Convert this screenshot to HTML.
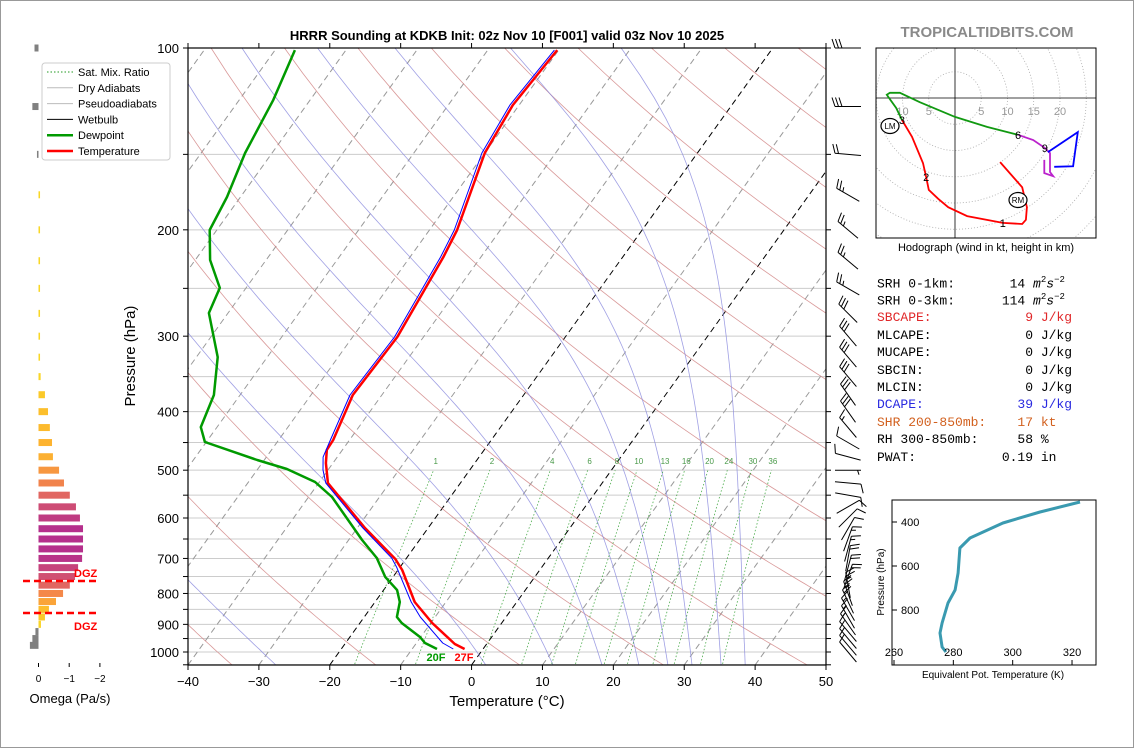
<!DOCTYPE html>
<html><head><meta charset="utf-8">
<style>
html,body{margin:0;padding:0;background:#fff;}
body{width:1134px;height:748px;overflow:hidden;position:relative;font-family:"Liberation Sans",sans-serif;}
svg{position:absolute;left:0;top:0;}
.stat{position:absolute;font-family:"Liberation Mono",monospace;font-size:13px;line-height:15px;white-space:pre;}
</style></head>
<body>
<svg id="chart" width="1134" height="748" viewBox="0 0 1134 748">
<defs>
<clipPath id="plotclip"><rect x="188" y="48" width="638" height="617"/></clipPath>
<clipPath id="hodoclip"><rect x="876" y="48" width="220" height="190"/></clipPath>
<clipPath id="thclip"><rect x="892" y="500" width="204" height="165"/></clipPath>
</defs>
<rect x="0.5" y="0.5" width="1133" height="747" fill="#fff" stroke="#999"/>
</svg>

<div class="stat" style="left:877px;top:273px">SRH 0-1km:       14 <i>m</i><sup style="font-size:9px">2</sup><i>s</i><sup style="font-size:9px">−2</sup></div>
<div class="stat" style="left:877px;top:290px">SRH 0-3km:      114 <i>m</i><sup style="font-size:9px">2</sup><i>s</i><sup style="font-size:9px">−2</sup></div>
<div class="stat" style="left:877px;top:310px;color:#e0282a">SBCAPE:            9 J/kg</div>
<div class="stat" style="left:877px;top:328px">MLCAPE:            0 J/kg</div>
<div class="stat" style="left:877px;top:345px">MUCAPE:            0 J/kg</div>
<div class="stat" style="left:877px;top:363px">SBCIN:             0 J/kg</div>
<div class="stat" style="left:877px;top:380px">MLCIN:             0 J/kg</div>
<div class="stat" style="left:877px;top:397px;color:#2a2ae0">DCAPE:            39 J/kg</div>
<div class="stat" style="left:877px;top:415px;color:#d2601e">SHR 200-850mb:    17 kt</div>
<div class="stat" style="left:877px;top:432px">RH 300-850mb:     58 %</div>
<div class="stat" style="left:877px;top:450px">PWAT:           0.19 in</div>

<script>
// ---------- DATA ----------
const tempP = [988.6,969.8,895.4,826.5,731.6,701.5,623.4,525,486.6,463,445.7,375.4,300.9,221.8,200.1,149.2,124.3,100.8];
const tempT = [-2.6,-4.5,-9.8,-14.4,-19.4,-21.5,-28.9,-38.7,-41.0,-42.2,-42.3,-44.1,-43.7,-45.3,-46.1,-50.0,-50.9,-50.2];
const dewP = [988.6,966.3,944.5,895.4,875,826.5,789.7,751,698.9,652.6,553.8,523.1,497.8,481,449,424.2,375.4,324.9,274.6,249.6,224.4,200.1,176.5,149.2,121.9,100.8];
const dewT = [-6.5,-8.8,-10.1,-14.1,-15.4,-16.5,-18.1,-21.1,-24.2,-28.1,-36.7,-40.6,-45.9,-51.0,-60.2,-62.3,-63.7,-67.0,-72.7,-73.7,-77.9,-81.0,-81.9,-83.8,-85.2,-87.2];
const wbP = [988.6,966.3,875,826.5,723.4,698.9,623.4,525,499.7,475.6,445.7,375.4,300.9,221.8,200.1,149.2,124.3,100.8];
const wbT = [-4.2,-6.3,-12.1,-14.9,-20.5,-22.1,-29.2,-39.0,-40.7,-42.0,-42.7,-44.5,-44.1,-45.7,-46.5,-50.4,-51.3,-50.6];
const xTicks = [-40,-30,-20,-10,0,10,20,30,40,50];
const pLabels = [100,200,300,400,500,600,700,800,900,1000];
const mixRatios = [1,2,4,6,8,10,13,16,20,24,30,36];
const omegaP = [100,125,150,175,200,225,250,275,300,325,350,375,400,425,450,475,500,525,550,575,600,625,650,675,700,725,750,775,800,825,850,875,900,925,950,975];
const omegaV = [0.13,0.2,0.05,-0.05,-0.05,-0.05,-0.05,-0.05,-0.05,-0.05,-0.07,-0.21,-0.31,-0.37,-0.44,-0.47,-0.67,-0.83,-1.02,-1.22,-1.35,-1.45,-1.45,-1.45,-1.42,-1.29,-1.19,-1.02,-0.8,-0.57,-0.34,-0.21,-0.08,0.1,0.2,0.28];
const barbP = [100,125,150,175,200,225,250,275,300,325,350,375,400,425,450,475,500,525,550,575,600,625,650,675,700,725,750,775,800,825,850,875,900,925,950,975,1000];
const barbDir = [270,270,275,300,310,310,300,315,320,320,320,325,325,320,300,285,90,95,100,60,45,30,20,15,10,15,20,350,340,335,330,330,325,320,320,320,320];
const barbSpd = [30,30,20,25,25,25,25,30,30,30,30,30,30,15,10,10,5,10,10,10,10,10,15,15,20,20,20,25,25,20,15,15,15,10,10,10,10];
const hodoRedU = [8.6,12.8,13.7,13.5,12.8,9.1,2.3,-1.3,-3.2,-5.0,-5.5,-6.1,-8.2,-10.1];
const hodoRedV = [-12.2,-17,-20.8,-23.2,-24,-23.8,-22.5,-20.8,-19.2,-17.5,-15,-12.4,-7.4,-4.2];
const hodoGreenU = [-10.1,-11.2,-13,-12.4,-10.5,-6.7,0,6.1,12];
const hodoGreenV = [-4.2,-1.9,0.6,1,1,-0.8,-3.6,-5.5,-7];
const hodoMagU = [12,14.9,17.1,18.1,18.1,18.7,17,17];
const hodoMagV = [-7,-8,-9.5,-10.5,-14.1,-14.9,-14.3,-11.8];
const hodoBlueU = [17.7,23.4,22.5,18.9];
const hodoBlueV = [-10.3,-6.5,-13,-13.1];
const thetaEP = [309,354.5,404.5,472.7,518,632,709,768,859,904.5,968,991];
const thetaEV = [322.7,309.2,296.7,285.6,282.2,281.6,280.6,278.2,276.2,275.5,276.2,277.5];
const thetaETicksX = [260,280,300,320];
const thetaETicksY = [400,600,800];

// ---------- SCALES ----------
const NS = 'http://www.w3.org/2000/svg';
const svg = document.getElementById('chart');
function yP(p){return 48 + 604*Math.log10(p/100);}
function xT(t,p){return 188 + (t+40)*7.089 + 0.718*(665 - yP(p));}
function mk(tag, attrs, parent){const e=document.createElementNS(NS,tag);for(const k in attrs)e.setAttribute(k,attrs[k]);(parent||svg).appendChild(e);return e;}
function txt(s, attrs, parent){const e=mk('text',attrs,parent);e.textContent=s;return e;}
function pts(arr){return arr.map(a=>a[0].toFixed(1)+','+a[1].toFixed(1)).join(' ');}

// ---------- MAIN PLOT BACKGROUND ----------
const bg = mk('g',{'clip-path':'url(#plotclip)'});


for(let p=150;p<=1050;p+=50){
  const l=mk('line',{x1:188,x2:826,y1:yP(p),y2:yP(p),stroke:'#cccccc','stroke-width':1},bg);
  
  
}
for(let t=-110;t<=50;t+=10){
  const black=(t===0||t===-20);
  const l=mk('line',{x1:xT(t,1051),y1:yP(1051),x2:xT(t,100),y2:yP(100),stroke:black?'#000':'#999','stroke-width':1,'stroke-dasharray':'6,4'},bg);
  
  
}
// dry adiabats
for(let th=196;th<=500;th+=20){
  const a=[];for(let p=1060;p>=95;p-=10){a.push([xT(th*Math.pow(p/1000,0.286)-273.15,p),yP(p)]);}
  const l=mk('polyline',{points:pts(a),fill:'none',stroke:'#d08080','stroke-width':0.8,opacity:0.8},bg);
  
  
}
// moist adiabats
function es(tc){return 6.112*Math.exp(17.67*tc/(tc+243.5));}
[-27.6,2.0,11.5,18.4,23.6,27.7,31.1,35.2,38.6].forEach(t0=>{
  let T=t0+273.15, p=1051; const a=[[xT(t0,p),yP(p)]];
  while(p>100){const dp=-2;const e=es(T-273.15);const rs=0.622*e/(p-e);
    const dTdp=(287*T+2.5e6*rs)/(1005+2.5e6*2.5e6*rs*0.622/(287*T*T))/p;
    T+=dTdp*dp;p+=dp;if(p%10===1||p<=100)a.push([xT(T-273.15,p),yP(p)]);}
  const l=mk('polyline',{points:pts(a),fill:'none',stroke:'#8888dd','stroke-width':0.8,opacity:0.8},bg);
  
  
});
// mixing ratio
mixRatios.forEach(w=>{
  const a=[];for(let p=1060;p>=500;p-=10){const e=w*p/(622+w);const ln=Math.log(e/6.112);const td=243.5*ln/(17.67-ln);a.push([xT(td,p),yP(p)]);}
  const l=mk('polyline',{points:pts(a),fill:'none',stroke:'#229922','stroke-width':0.8,'stroke-dasharray':'1.5,2',opacity:0.8},bg);
  
  
  const e=w*490/(622+w);const ln=Math.log(e/6.112);const td=243.5*ln/(17.67-ln);
  const lb=txt(String(w),{x:xT(td,490),y:yP(490)-1,'font-size':8,fill:'#4a9a4a','text-anchor':'middle'},bg);
  
  
});

// ---------- PROFILES ----------
const prof = mk('g',{'clip-path':'url(#plotclip)'});
function profile(P,T,color,w,name){
  const l=mk('polyline',{points:pts(P.map((p,i)=>[xT(T[i],p),yP(p)])),fill:'none',stroke:color,'stroke-width':w,'stroke-linejoin':'round'},prof);
  
  
}
profile(dewP,dewT,'#009a00',2.5,'dewpoint-line');
profile(tempP,tempT,'#ff0000',2.5,'temperature-line');
profile(wbP,wbT,'#0000ff',1,'wetbulb-line');
const sfd=txt('20F',{x:436,y:661,'font-size':11,'font-weight':'bold',fill:'#009a00','text-anchor':'middle'});


const sft=txt('27F',{x:464,y:661,'font-size':11,'font-weight':'bold',fill:'#ff0000','text-anchor':'middle'});



// ---------- AXES ----------
const frame=mk('rect',{x:188,y:48,width:638,height:617,fill:'none',stroke:'#000','stroke-width':1.2});


xTicks.forEach(t=>{
  const x=188+(t+40)*7.089;
  mk('line',{x1:x,x2:x,y1:665,y2:670,stroke:'#000'});
  mk('line',{x1:x,x2:x,y1:48,y2:43,stroke:'#000'});
  const l=txt(t<0?'\u2212'+Math.abs(t):String(t),{x:x,y:686,'font-size':13,'text-anchor':'middle'});
  
  
});
for(let p=100;p<=1050;p+=50){
  const y=yP(p);
  mk('line',{x1:183,x2:188,y1:y,y2:y,stroke:'#000'});
  mk('line',{x1:826,x2:831,y1:y,y2:y,stroke:'#000'});
}
pLabels.forEach(p=>{
  const l=txt(String(p),{x:179,y:yP(p)+5,'font-size':13,'text-anchor':'end'});
  
  
});
const xt=txt('Temperature (°C)',{x:507,y:706,'font-size':15,'text-anchor':'middle'});


const yt=txt('Pressure (hPa)',{x:135,y:356,'font-size':15,'text-anchor':'middle',transform:'rotate(-90 135 356)'});


const tt=txt('HRRR Sounding at KDKB Init: 02z Nov 10 [F001] valid 03z Nov 10 2025',{x:507,y:40,'font-size':13,'font-weight':'bold','text-anchor':'middle'});


const wm=txt('TROPICALTIDBITS.COM',{x:987,y:37,'font-size':15,'font-weight':'bold',fill:'#8a8a8a','text-anchor':'middle'});



// ---------- LEGEND ----------
const lg=mk('g',{});


mk('rect',{x:42,y:63,width:128,height:97,rx:3,fill:'#fff',stroke:'#ccc'},lg);
[['Sat. Mix. Ratio','#229922',1,'1.5,2'],['Dry Adiabats','#bbb',1,''],['Pseudoadiabats','#bbb',1,''],['Wetbulb','#000',1,''],['Dewpoint','#009a00',2.5,''],['Temperature','#ff0000',2.5,'']].forEach((d,i)=>{
  const y=72+i*15.8;
  const ln=mk('line',{x1:47,x2:73,y1:y,y2:y,stroke:d[1],'stroke-width':d[2],'stroke-dasharray':d[3]},lg);
  
  
  const t=txt(d[0],{x:78,y:y+4,'font-size':11},lg);
  
  
});

// ---------- WIND BARBS ----------
const bg2=mk('g',{stroke:'#000','stroke-width':1,fill:'none'});


barbP.forEach((p,i)=>{
  const d=barbDir[i]*Math.PI/180, s=barbSpd[i];
  const dx=Math.sin(d), dy=-Math.cos(d);
  const px=-dy, py=dx; // perpendicular
  const cx=848, cy=yP(p), L=26;
  const x0=cx-dx*L/2,y0=cy-dy*L/2,x1=cx+dx*L/2,y1=cy+dy*L/2;
  let path='M'+x0.toFixed(1)+','+y0.toFixed(1)+'L'+x1.toFixed(1)+','+y1.toFixed(1);
  let full=Math.floor(s/10), half=(s%10)>=5?1:0, k=0;
  for(let f=0;f<full;f++){const bx=x1-dx*k*3.5,by=y1-dy*k*3.5;path+='M'+bx.toFixed(1)+','+by.toFixed(1)+'l'+(px*9+dx*3).toFixed(1)+','+(py*9+dy*3).toFixed(1);k++;}
  if(half){if(k===0)k=1;const bx=x1-dx*k*3.5,by=y1-dy*k*3.5;path+='M'+bx.toFixed(1)+','+by.toFixed(1)+'l'+(px*4.5+dx*1.5).toFixed(1)+','+(py*4.5+dy*1.5).toFixed(1);}
  const b=mk('path',{d:path},bg2);
  
  
});

// ---------- OMEGA PANEL ----------
const og=mk('g',{});


function plasma(v){const stops=[[0,[249,220,36]],[0.3,[253,180,47]],[0.55,[244,136,73]],[0.75,[219,92,104]],[1,[181,47,140]]];
  v=Math.min(1,Math.max(0,v));for(let i=1;i<stops.length;i++){if(v<=stops[i][0]){const a=stops[i-1],b=stops[i],f=(v-a[0])/(b[0]-a[0]);return 'rgb('+a[1].map((c,j)=>Math.round(c+(b[1][j]-c)*f)).join(',')+')';}}}
const ox0=38.5, oscale=30.7;
omegaP.forEach((p,i)=>{
  const v=omegaV[i], y=yP(p);
  const x1=ox0-v*oscale;
  const color=v>0?'#808080':plasma(-v/1.45);
  const r=mk('rect',{x:Math.min(ox0,x1),y:y-3.5,width:Math.max(1,Math.abs(x1-ox0)),height:7,fill:color},og);
  
  
});
[0,-1,-2].forEach(v=>{const x=ox0-v*oscale;mk('line',{x1:x,x2:x,y1:663,y2:667,stroke:'#000'},og);
  const t=txt(v===0?'0':'\u2212'+Math.abs(v),{x:x,y:682,'font-size':10,'text-anchor':'middle'},og);
  
  });
const ot=txt('Omega (Pa/s)',{x:70,y:703,'font-size':13,'text-anchor':'middle'},og);


[[581,'DGZ',573],[613,'DGZ',626]].forEach(d=>{
  const l=mk('line',{x1:23,x2:99,y1:d[0],y2:d[0],stroke:'#ff0000','stroke-width':2.5,'stroke-dasharray':'7,4'},og);
  
  
  const t=txt(d[1],{x:74,y:d[2]+4,'font-size':11,'font-weight':'bold',fill:'#ff0000'},og);
  
  
});

// ---------- HODOGRAPH ----------
const hg=mk('g',{});


const hx0=955, hy0=98, hs=5.25;
const hc=mk('g',{'clip-path':'url(#hodoclip)'},hg);
for(let r=5;r<=45;r+=5){mk('circle',{cx:hx0,cy:hy0,r:r*hs,fill:'none',stroke:'#aaa','stroke-width':0.8,'stroke-dasharray':'1,2'},hc);}
mk('line',{x1:876,x2:1096,y1:hy0,y2:hy0,stroke:'#000','stroke-width':0.8},hc);
mk('line',{x1:hx0,x2:hx0,y1:48,y2:238,stroke:'#000','stroke-width':0.8},hc);
[[-10,'10'],[-5,'5'],[5,'5'],[10,'10'],[15,'15'],[20,'20']].forEach(d=>{
  const t=txt(d[1],{x:hx0+d[0]*hs,y:115,'font-size':11,fill:'#999','text-anchor':'middle'},hc);
  
  
});
function hodoLine(U,V,c,name){const l=mk('polyline',{points:pts(U.map((u,i)=>[hx0+u*hs,hy0-V[i]*hs])),fill:'none',stroke:c,'stroke-width':1.8},hc);
  
  }
hodoLine(hodoRedU,hodoRedV,'#ff0000','hodograph-0-3km');
hodoLine(hodoGreenU,hodoGreenV,'#119911','hodograph-3-6km');
hodoLine(hodoMagU,hodoMagV,'#bb22cc','hodograph-6-9km');
hodoLine(hodoBlueU,hodoBlueV,'#0000ff','hodograph-9-12km');
[['1',hodoRedU[5],hodoRedV[5]],['2',hodoRedU[10],hodoRedV[10]],['3',hodoRedU[13],hodoRedV[13]],['6',hodoGreenU[8],hodoGreenV[8]],['9',hodoMagU[2],hodoMagV[2]]].forEach(d=>{
  const t=txt(d[0],{x:hx0+d[1]*hs,y:hy0-d[2]*hs+4,'font-size':11,'text-anchor':'middle'},hc);
  
  
});
[['LM',890,126],['RM',1018,200]].forEach(d=>{
  mk('ellipse',{cx:d[1],cy:d[2],rx:9,ry:7.5,fill:'#fff',stroke:'#000','stroke-width':1.2},hc);
  const t=txt(d[0],{x:d[1],y:d[2]+3,'font-size':8,'text-anchor':'middle'},hc);
  
  
});
mk('rect',{x:876,y:48,width:220,height:190,fill:'none',stroke:'#000','stroke-width':1},hg);
const hcap=txt('Hodograph (wind in kt, height in km)',{x:986,y:251,'font-size':11,'text-anchor':'middle'},hg);



// ---------- THETA-E PANEL ----------
const tg=mk('g',{});


function tx(v){return 894+(v-260)*2.967;}
function ty(p){return 522+(p-400)*0.22;}
const tc=mk('g',{'clip-path':'url(#thclip)'},tg);
const tl=mk('polyline',{points:pts(thetaEP.map((p,i)=>[tx(thetaEV[i]),ty(p)])),fill:'none',stroke:'#3a9ab0','stroke-width':3,'stroke-linejoin':'round'},tc);


mk('rect',{x:892,y:500,width:204,height:165,fill:'none',stroke:'#000','stroke-width':1},tg);
thetaETicksX.forEach(v=>{mk('line',{x1:tx(v),x2:tx(v),y1:665,y2:660,stroke:'#000'},tg);
  const t=txt(String(v),{x:tx(v),y:656,'font-size':11,'text-anchor':'middle'},tg);
  
  });
thetaETicksY.forEach(p=>{mk('line',{x1:892,x2:897,y1:ty(p),y2:ty(p),stroke:'#000'},tg);
  const t=txt(String(p),{x:901,y:ty(p)+4,'font-size':11},tg);
  
  });
const txl=txt('Equivalent Pot. Temperature (K)',{x:993,y:678,'font-size':10,'text-anchor':'middle'},tg);


const tyl=txt('Pressure (hPa)',{x:884,y:582,'font-size':10,'text-anchor':'middle',transform:'rotate(-90 884 582)'},tg);


</script>
</body></html>
